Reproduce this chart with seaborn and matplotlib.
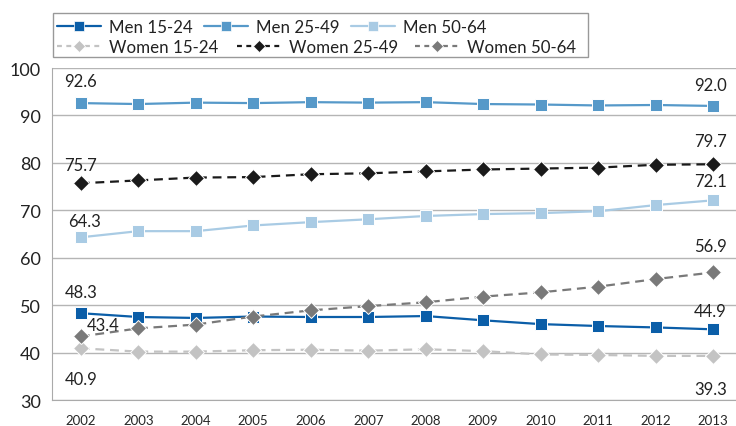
import matplotlib
matplotlib.use("Agg")
import matplotlib.pyplot as plt
import matplotlib.ticker as mticker
from matplotlib.lines import Line2D
from matplotlib.patches import Rectangle
import pandas as pd
import seaborn as sns

years = list(range(2002, 2014))
men_15_24 = [48.3, 47.5, 47.3, 47.6, 47.5, 47.5, 47.7, 46.8, 46.0, 45.6, 45.3, 44.9]
men_25_49 = [92.6, 92.4, 92.7, 92.6, 92.8, 92.7, 92.8, 92.4, 92.3, 92.1, 92.2, 92.0]
men_50_64 = [64.3, 65.6, 65.6, 66.8, 67.5, 68.1, 68.8, 69.2, 69.4, 69.8, 71.1, 72.1]
women_15_24 = [40.9, 40.2, 40.2, 40.5, 40.6, 40.4, 40.7, 40.3, 39.6, 39.5, 39.3, 39.3]
women_25_49 = [75.7, 76.3, 76.9, 77.0, 77.6, 77.8, 78.2, 78.6, 78.8, 79.0, 79.6, 79.7]
women_50_64 = [43.4, 45.1, 45.9, 47.6, 48.9, 49.8, 50.6, 51.8, 52.7, 53.9, 55.5, 56.9]

series = {
    "Men 15-24": men_15_24,
    "Men 25-49": men_25_49,
    "Men 50-64": men_50_64,
    "Women 15-24": women_15_24,
    "Women 25-49": women_25_49,
    "Women 50-64": women_50_64,
}
colors = {
    "Men 15-24": "#0b5ea8",
    "Men 25-49": "#5699c9",
    "Men 50-64": "#a9cbe4",
    "Women 15-24": "#c3c3c3",
    "Women 25-49": "#1a1a1a",
    "Women 50-64": "#797979",
}

df = pd.DataFrame([
    {"year": y, "value": v, "group": name}
    for name, vals in series.items() for y, v in zip(years, vals)
])

sns.set_style("white")
plt.rcParams["font.family"] = ["Lato", "DejaVu Sans"]

W, H = 736, 427
fig = plt.figure(figsize=(W / 100, H / 100), dpi=100)
ax = fig.add_axes([52 / W, 1 - 401 / H, 690 / W, 332 / H])

for name in series:
    women = name.startswith("Women")
    sns.lineplot(data=df[df["group"] == name], x="year", y="value", ax=ax,
                 color=colors[name], lw=1.6,
                 linestyle=(0, (4, 2.6)) if women else "-",
                 marker="D" if women else "s",
                 markersize=7.8 if women else 8.4,
                 markeredgecolor="white", markeredgewidth=0.7)

ax.set_xlim(2001.5, 2013.5)
ax.set_ylim(30, 100)
ax.yaxis.set_major_locator(mticker.MultipleLocator(10))
ax.set_xticks(years)
ax.set_xticklabels([str(y) for y in years], fontsize=9.5)
ax.xaxis.set_minor_locator(mticker.FixedLocator([y - 0.5 for y in years]))
ax.tick_params(axis="x", which="major", length=0, pad=10)
ax.tick_params(axis="x", which="minor", length=6, color="#999999", width=1)
ax.tick_params(axis="y", length=0, labelsize=13, labelcolor="#222222", pad=8)
ax.grid(axis="y", color="#b5b5b5", lw=1)
ax.set_axisbelow(True)
for side in ["top", "right"]:
    ax.spines[side].set_visible(False)
for side in ["left", "bottom"]:
    ax.spines[side].set_color("#aaaaaa")
ax.set_xlabel("")
ax.set_ylabel("")

# first / last value labels
label_offsets = {
    "Men 15-24": ((0, 15), (-2, 13)),
    "Men 25-49": ((0, 16), (-2, 15)),
    "Men 50-64": ((3, 12), (-2, 14)),
    "Women 15-24": ((0, -22), (-2, -24)),
    "Women 25-49": ((0, 13), (-2, 17)),
    "Women 50-64": ((16, 8), (-2, 19)),
}
for name, vals in series.items():
    (fx, fy), (lx, ly) = label_offsets[name]
    ax.annotate(f"{vals[0]:.1f}", (years[0], vals[0]), xytext=(fx, fy),
                textcoords="offset points", ha="center", va="center",
                fontsize=12, color="#222222")
    ax.annotate(f"{vals[-1]:.1f}", (years[-1], vals[-1]), xytext=(lx, ly),
                textcoords="offset points", ha="center", va="center",
                fontsize=12, color="#222222")

# legend drawn by hand: the two rows are laid out independently in the original
legend_pos = {
    "Men 15-24": (57, 26.5), "Men 25-49": (204, 26.5), "Men 50-64": (351, 26.5),
    "Women 15-24": (57, 46.5), "Women 25-49": (237, 46.5), "Women 50-64": (415, 46.5),
}
tf = fig.transFigure
for name, (px, py) in legend_pos.items():
    women = name.startswith("Women")
    y = 1 - py / H
    fig.add_artist(Line2D([px / W, (px + 44) / W], [y, y], transform=tf,
                          color=colors[name], lw=1.6,
                          linestyle=(0, (2.2, 2.0)) if women else "-"))
    fig.add_artist(Line2D([(px + 22) / W], [y], transform=tf,
                          color=colors[name], lw=0,
                          marker="D" if women else "s",
                          markersize=6.2 if women else 6.6,
                          markeredgecolor="white", markeredgewidth=0.5))
    fig.text((px + 52) / W, y, name, ha="left", va="center_baseline",
             fontsize=12.2, color="#222222")

fig.patches.append(Rectangle((53 / W, 1 - 57.5 / H), 535 / W, 44 / H,
                             transform=tf, fill=False,
                             edgecolor="#999999", lw=1))

fig.savefig("out.png", dpi=100)
